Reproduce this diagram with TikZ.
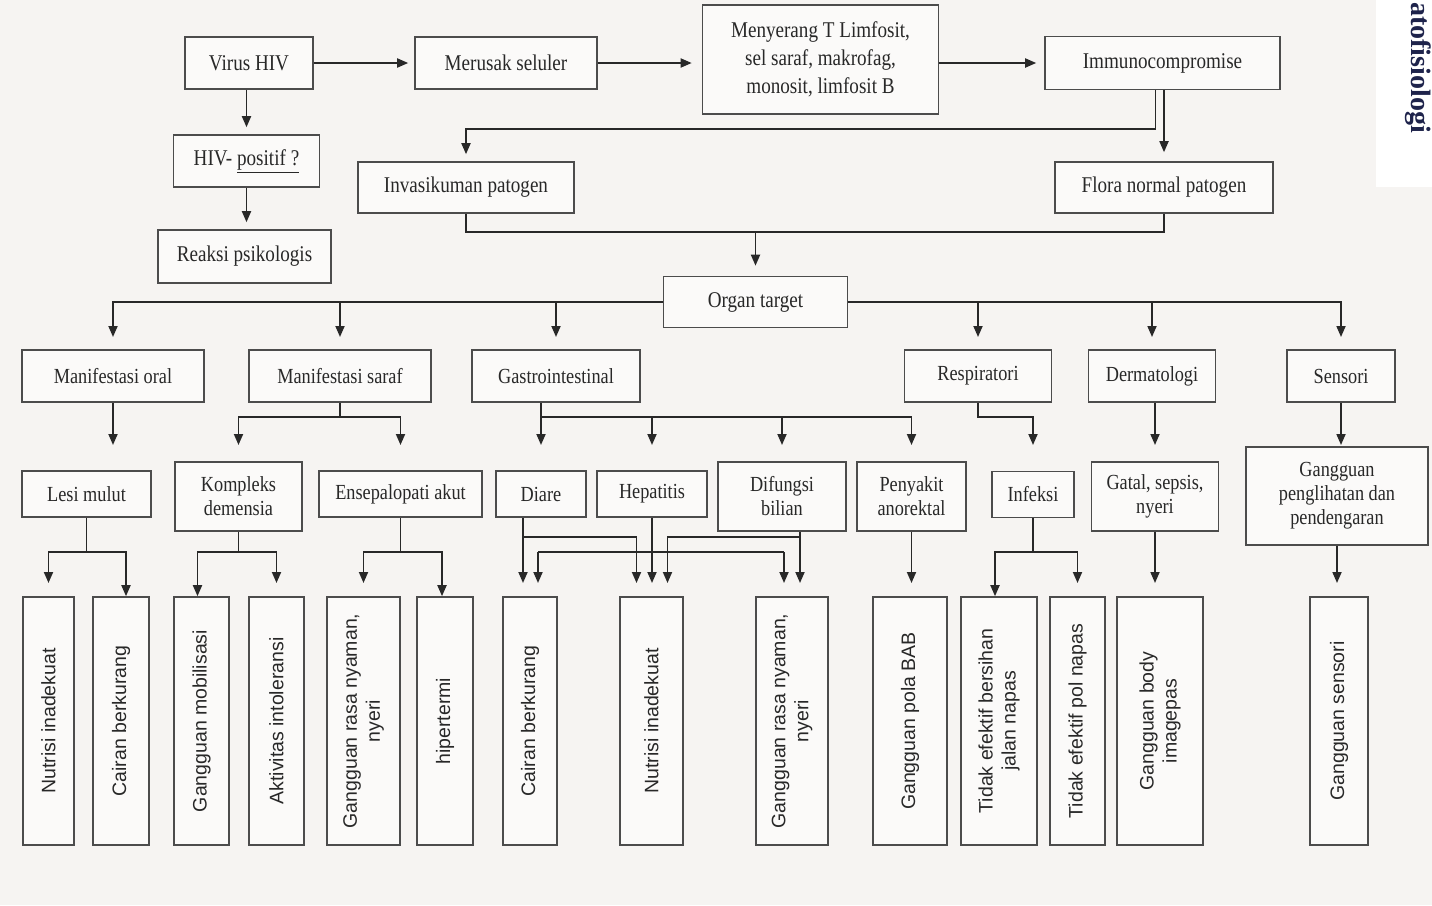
\documentclass[tikz,border=0pt]{standalone}
\usepackage{fontspec}
\setmainfont{Liberation Serif}[FakeStretch=0.85]
\newfontfamily\vsans{Liberation Sans}
\newfontfamily\titlefont{Liberation Serif}
\usetikzlibrary{arrows.meta,calc}
\definecolor{paper}{RGB}{246,244,242}
\definecolor{ink}{RGB}{40,40,40}
\definecolor{titlec}{RGB}{30,35,75}
\tikzset{
  box/.style={draw=black!70, line width=1.6pt, fill=white!55!paper, inner sep=0pt,
    align=center, text=ink, font=\fontsize{21.5}{24}\selectfont},
  bigbox/.style={box, font=\fontsize{22.5}{28}\selectfont},
  vbox/.style={draw=black!70, line width=1.6pt, fill=white!55!paper, inner sep=0pt},
  vtxt/.style={rotate=90, align=center, text=ink, inner sep=0pt,
    font=\vsans\fontsize{19.5}{23}\selectfont},
  ln/.style={draw=ink, line width=1.8pt},
  arr/.style={draw=ink, line width=1.8pt, -{Triangle[length=11pt,width=9pt]}},
}
\begin{document}
\begin{tikzpicture}[x=1pt,y=-1pt]
\fill[paper] (0,0) rectangle (1432,905);
\useasboundingbox (0,0) rectangle (1432,905);
\fill[white] (1376,0) rectangle (1432,187);
\node[rotate=-90, anchor=west, inner sep=0pt, text=titlec,
  font=\titlefont\bfseries\fontsize{28}{28}\selectfont] (title) at (1418,2) {atofisiologi};

% helper coordinates (levels)
\coordinate (r3tip) at (0,337);
\coordinate (r3bus) at (0,417);
\coordinate (r4tip) at (0,445);
\coordinate (r5busA) at (0,537);
\coordinate (r5bus) at (0,552);
\coordinate (r5tip) at (0,583);

% row 1
\node[bigbox, minimum width=128pt, minimum height=52pt] (virus) at (249,63) {Virus HIV};
\node[bigbox, minimum width=182pt, minimum height=52pt] (merusak) at (506,63) {Merusak seluler};
\node[bigbox, minimum width=236pt, minimum height=109pt] (menyerang) at (820.5,59.5)
  {Menyerang T Limfosit,\\ sel saraf, makrofag,\\ monosit, limfosit B};
\node[bigbox, minimum width=235pt, minimum height=53pt] (immuno) at (1162.5,63) {Immunocompromise};
\node[bigbox, minimum width=146pt, minimum height=52pt] (hivpos) at (246.5,161) {HIV- \underline{positif ?}};
\node[bigbox, minimum width=173pt, minimum height=53pt] (reaksi) at (244.5,256.5) {Reaksi psikologis};
\node[bigbox, minimum width=216pt, minimum height=51pt] (invasi) at (466,187.5) {Invasikuman patogen};
\node[bigbox, minimum width=218pt, minimum height=51pt] (flora) at (1164,187.5) {Flora normal patogen};
\node[bigbox, minimum width=184pt, minimum height=51pt] (organ) at (755.5,302) {Organ target};

% row 3
\node[box, minimum width=182pt, minimum height=52pt] (moral) at (113,376) {Manifestasi oral};
\node[box, minimum width=182pt, minimum height=52pt] (msaraf) at (340,376) {Manifestasi saraf};
\node[box, minimum width=168pt, minimum height=52pt] (gastro) at (556,376) {Gastrointestinal};
\node[box, minimum width=147pt, minimum height=52pt] (resp) at (978,376) {Respiratori};
\node[box, minimum width=127pt, minimum height=52pt] (derm) at (1152,376) {Dermatologi};
\node[box, minimum width=108pt, minimum height=52pt] (sens) at (1341,376) {Sensori};

% row 4
\node[box, minimum width=129pt, minimum height=46pt] (lesi) at (86.5,494) {Lesi mulut};
\node[box, minimum width=127pt, minimum height=69pt] (kompleks) at (238.5,496.5) {Kompleks\\ demensia};
\node[box, minimum width=163pt, minimum height=46pt] (ensep) at (400.5,494) {Ensepalopati akut};
\node[box, minimum width=90pt, minimum height=46pt] (diare) at (541,494) {Diare};
\node[box, minimum width=110pt, minimum height=46pt] (hepat) at (652,494) {Hepatitis};
\node[box, minimum width=128pt, minimum height=69pt] (difung) at (782,496.5) {Difungsi\\ bilian};
\node[box, minimum width=109pt, minimum height=69pt] (penyakit) at (911.5,496.5) {Penyakit\\ anorektal};
\node[box, minimum width=82pt, minimum height=46pt] (infeksi) at (1033,494.5) {Infeksi};
\node[box, minimum width=127pt, minimum height=69pt] (gatal) at (1155,496.5) {Gatal, sepsis,\\ nyeri};
\node[box, minimum width=182pt, minimum height=98pt] (gpd) at (1337,496) {Gangguan\\ penglihatan dan\\ pendengaran};

% row 5 (vertical boxes)
\foreach \n/\cx/\w in {b1/48.5/51, b2/121/56, b3/201.5/55, b4/276.5/55, b5/363.5/73, b6/445/56,
  b7/530/54, b8/651.5/63, b9/792/72, b10/910/74, b11/999/76, b12/1077.5/55, b13/1160/86, b14/1339/58}
  {\node[vbox, minimum width=\w pt, minimum height=248pt] (\n) at (\cx,721) {};}
\node[vtxt] (b1t) at (b1) {Nutrisi inadekuat};
\node[vtxt] (b2t) at (b2) {Cairan berkurang};
\node[vtxt] (b3t) at (b3) {Gangguan mobilisasi};
\node[vtxt] (b4t) at (b4) {Aktivitas intoleransi};
\node[vtxt] (b5t) at (b5) {Gangguan rasa nyaman,\\ nyeri};
\node[vtxt] (b6t) at (b6) {hipertermi};
\node[vtxt] (b7t) at (b7) {Cairan berkurang};
\node[vtxt] (b8t) at (b8) {Nutrisi inadekuat};
\node[vtxt] (b9t) at (b9) {Gangguan rasa nyaman,\\ nyeri};
\node[vtxt] (b10t) at (b10) {Gangguan pola BAB};
\node[vtxt] (b11t) at (b11) {Tidak efektif bersihan\\ jalan napas};
\node[vtxt] (b12t) at (b12) {Tidak efektif pol napas};
\node[vtxt] (b13t) at (b13) {Gangguan body\\ imagepas};
\node[vtxt] (b14t) at (b14) {Gangguan sensori};

% top connectors
\draw[arr, shorten >=6pt] (virus.east) -- (merusak.west);
\draw[arr, shorten >=10pt] (merusak.east) -- (merusak.east -| menyerang.west);
\draw[arr, shorten >=8pt] (menyerang.east |- immuno.west) -- (immuno.west);
\draw[arr, shorten >=7pt] (hivpos.north |- virus.south) -- (hivpos.north);
\draw[arr, shorten >=7pt] (hivpos.south) -- (hivpos.south |- reaksi.north);
\coordinate (imL) at ($(immuno.south)+(-7,0)$);
\draw[arr, shorten >=7pt] (imL) -- ++(0,39) -| (invasi.north);
\draw[arr, shorten >=9pt] (flora.north |- immuno.south) -- (flora.north);
\draw[ln] (invasi.south) -- ++(0,18) -| (flora.south);
\draw[arr, shorten >=10pt] (organ.north |- 0,231) -- (organ.north);

% organ target -> row 3
\draw[arr] (organ.west) -| (moral.north |- r3tip);
\draw[arr] (msaraf.north |- organ.west) -- (msaraf.north |- r3tip);
\draw[arr] (gastro.north |- organ.west) -- (gastro.north |- r3tip);
\draw[arr] (organ.east) -| (sens.north |- r3tip);
\draw[arr] (resp.north |- organ.east) -- (resp.north |- r3tip);
\draw[arr] (derm.north |- organ.east) -- (derm.north |- r3tip);

% row 3 -> row 4
\draw[arr] (moral.south) -- (moral.south |- r4tip);
\draw[arr] (msaraf.south) -- (msaraf.south |- r3bus) -| (kompleks.north |- r4tip);
\draw[arr] (msaraf.south |- r3bus) -| (ensep.north |- r4tip);
\draw[arr] (diare.north |- gastro.south) -- (diare.north |- r4tip);
\draw[arr] (diare.north |- r3bus) -| (penyakit.north |- r4tip);
\draw[arr] (hepat.north |- r3bus) -- (hepat.north |- r4tip);
\draw[arr] (difung.north |- r3bus) -- (difung.north |- r4tip);
\draw[arr] (resp.south) -- (resp.south |- r3bus) -| (infeksi.north |- r4tip);
\draw[arr] (gatal.north |- derm.south) -- (gatal.north |- r4tip);
\draw[arr] (sens.south) -- (sens.south |- r4tip);

% row 4 -> row 5
\draw[arr] (lesi.south) -- (lesi.south |- r5bus) -| (b1.north |- r5tip);
\draw[arr] (lesi.south |- r5bus) -| ($(b2.north)+(5,0)$ |- r5tip);
\draw[arr] (kompleks.south) -- (kompleks.south |- r5bus) -| ($(b3.north)+(-4,0)$ |- r5tip);
\draw[arr] (kompleks.south |- r5bus) -| (b4.north |- r5tip);
\draw[arr] (ensep.south) -- (ensep.south |- r5bus) -| (b5.north |- r5tip);
\draw[arr] (ensep.south |- r5bus) -| ($(b6.north)+(-3,0)$ |- r5tip);
\coordinate (dS) at ($(diare.south)+(-18,0)$);
\coordinate (dfS) at ($(difung.south)+(18,0)$);
\coordinate (b7R) at ($(b7.north)+(8,0)$);
\coordinate (b8L) at ($(b8.north)+(-15,0)$);
\coordinate (b8R) at ($(b8.north)+(16,0)$);
\coordinate (b9L) at ($(b9.north)+(-8,0)$);
\draw[arr] (dS) -- (dS |- r5tip);
\draw[arr] (dS |- r5busA) -| (b8L |- r5tip);
\draw[arr] (hepat.south) -- (hepat.south |- r5tip);
\draw[arr] (b7R |- r5bus) -- (b7R |- r5tip);
\draw[ln] (b7R |- r5bus) -- (b9L |- r5bus);
\draw[arr] (b9L |- r5bus) -- (b9L |- r5tip);
\draw[arr] (dfS) -- (dfS |- r5tip);
\draw[arr] (dfS |- r5busA) -| (b8R |- r5tip);
\draw[arr] (penyakit.south) -- (penyakit.south |- r5tip);
\draw[arr] (infeksi.south) -- (infeksi.south |- r5bus) -| ($(b11.north)+(-4,0)$ |- r5tip);
\draw[arr] (infeksi.south |- r5bus) -| (b12.north |- r5tip);
\draw[arr] (gatal.south) -- (gatal.south |- r5tip);
\draw[arr] (gpd.south) -- (gpd.south |- r5tip);
\end{tikzpicture}
\end{document}
